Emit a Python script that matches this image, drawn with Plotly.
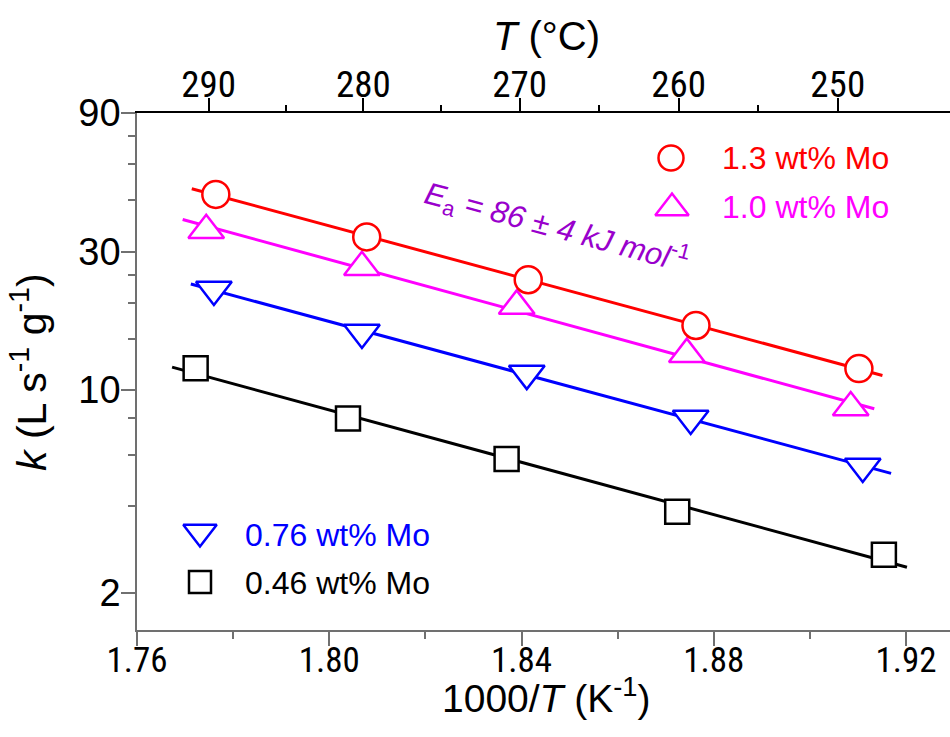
import numpy as np
import plotly.graph_objects as go

# ---------------- data ----------------
series_names = ["1.3 wt% Mo", "1.0 wt% Mo", "0.76 wt% Mo", "0.46 wt% Mo"]
x_red = [1.7764, 1.8078, 1.8414, 1.8763, 1.9102]
k_red = [47.2, 33.7, 24.0, 16.7, 11.86]
x_mag = [1.7744, 1.8068, 1.8390, 1.8744, 1.9085]
k_mag = [35.5, 26.5, 19.5, 13.3, 8.71]
x_blue = [1.7760, 1.8068, 1.8411, 1.8752, 1.9110]
k_blue = [22.2, 15.8, 11.4, 7.99, 5.46]
x_black = [1.7722, 1.8039, 1.8369, 1.8724, 1.9154]
k_black = [11.89, 7.99, 5.79, 3.81, 2.71]
# x-span of each fitted line
fit_red = [1.7714, 1.9151]
fit_mag = [1.7695, 1.9134]
fit_blue = [1.7712, 1.9169]
fit_black = [1.7673, 1.9202]

x_ticks = [1.76, 1.80, 1.84, 1.88, 1.92]
x_minor = [1.78, 1.82, 1.86, 1.90]
y_ticks = [2, 10, 30, 90]
y_minor = [4, 6, 8, 15, 20, 25, 45, 60, 75]
top_T = [290, 280, 270, 260, 250]
# where the reference places the top (°C) ticks, in 1000/T units
top_T_pos = [1.7749, 1.8071, 1.8396, 1.8727, 1.9058]
top_T_minor_pos = [1.7910, 1.8233, 1.8561, 1.8892]
ea_text = "<i>E</i><sub>a</sub><i> = 86 ± 4 kJ mol</i><sup>-1</sup>"

# ---------------- styles ----------------
colors = ["#FF0000", "#FF00FF", "#0000FF", "#000000"]
symbols = ["circle", "triangle-up", "triangle-down", "square"]
msizes = [27, 31, 31, 24]
FONT = "Liberation Sans, Arial, sans-serif"
NARROW = "Liberation Sans Narrow, Arial Narrow, Roboto Condensed, Liberation Sans, sans-serif"

W, H = 950, 737
L, R, T, B = 137, 0, 113, 107
PW, PH = W - L - R, H - T - B
xr = [1.76, 1.76 + PW / 4806.25]
yr = [0.1741, np.log10(90)]


def px(xp):
    return (xp - L) / PW


def py(yp):
    return (H - B - yp) / PH


fig = go.Figure()
xs = [x_red, x_mag, x_blue, x_black]
ks = [k_red, k_mag, k_blue, k_black]
fits = [fit_red, fit_mag, fit_blue, fit_black]

# fitted lines (Arrhenius fit in log space)
for x, k, f, c in zip(xs, ks, fits, colors):
    p = np.polyfit(np.array(x), np.log10(np.array(k)), 1)
    fx = np.array(f)
    fig.add_trace(go.Scatter(x=fx, y=10 ** np.polyval(p, fx), mode="lines",
                             line=dict(color=c, width=3), showlegend=False,
                             hoverinfo="skip"))

# markers, drawn from bottom series up so red sits on top
for i in [3, 2, 1, 0]:
    fig.add_trace(go.Scatter(x=xs[i], y=ks[i], mode="markers", name=series_names[i],
                             marker=dict(symbol=symbols[i], size=msizes[i], color="white",
                                         line=dict(color=colors[i], width=2.5)),
                             showlegend=False, cliponaxis=False))

# top axis carrier trace (invisible)
fig.add_trace(go.Scatter(x=xr, y=[None, None], xaxis="x2", yaxis="y",
                         showlegend=False, hoverinfo="skip"))

# legend drawn on a pixel-unit overlay axis
leg_pos = [(671, 158), (672, 208), (200, 532), (200, 582)]
leg_text_x = [720, 720, 243, 243]
leg_text_y = [158, 207, 535, 583]
for i in range(4):
    fig.add_trace(go.Scatter(x=[leg_pos[i][0]], y=[leg_pos[i][1]], mode="markers",
                             xaxis="x3", yaxis="y3", showlegend=False, hoverinfo="skip",
                             marker=dict(symbol=symbols[i], size=msizes[i] - 2, color="white",
                                         line=dict(color=colors[i], width=2.5))))
    fig.add_annotation(x=px(leg_text_x[i]), y=py(leg_text_y[i]), xref="paper", yref="paper",
                       text=series_names[i], showarrow=False, xanchor="left",
                       yanchor="middle", font=dict(family=FONT, size=32, color=colors[i]))

fig.add_annotation(x=px(557), y=py(227), xref="paper", yref="paper", text=ea_text,
                   showarrow=False, textangle=15, xanchor="center", yanchor="middle",
                   font=dict(family=FONT, size=31, color="#9900CC"))

# axis titles
fig.add_annotation(x=px(546), y=py(695), xref="paper", yref="paper", showarrow=False,
                   xanchor="center", yanchor="middle",
                   text="1000/<i>T</i> (K<sup>-1</sup>)",
                   font=dict(family=FONT, size=39, color="black"))
fig.add_annotation(x=px(546), y=py(36), xref="paper", yref="paper", showarrow=False,
                   xanchor="center", yanchor="middle",
                   text="<i>T</i> (°C)", font=dict(family=FONT, size=40, color="black"))
fig.add_annotation(x=px(29), y=py(372), xref="paper", yref="paper", showarrow=False,
                   xanchor="center", yanchor="middle",
                   textangle=-90, text="<i>k</i> (L s<sup>-1</sup> g<sup>-1</sup>)",
                   font=dict(family=FONT, size=41, color="black"))

AX_GRAY = "#707070"
fig.update_layout(
    width=W, height=H, margin=dict(l=L, r=R, t=T, b=B),
    paper_bgcolor="white", plot_bgcolor="white", showlegend=False,
    xaxis=dict(range=xr, tickvals=x_ticks, ticktext=[f"{v:.2f}" for v in x_ticks],
               ticks="outside", ticklen=14, tickwidth=1.5, tickcolor=AX_GRAY,
               showline=True, linecolor=AX_GRAY, linewidth=1.5, showgrid=False,
               zeroline=False, tickfont=dict(family=NARROW, size=35, color="black"),
               ticklabelstandoff=-16,
               minor=dict(tickvals=x_minor, ticks="outside", ticklen=7, tickwidth=1.5,
                          tickcolor=AX_GRAY, showgrid=False)),
    xaxis2=dict(range=xr, overlaying="x", side="top", anchor="y",
                tickvals=top_T_pos, ticktext=[str(t) for t in top_T],
                ticks="outside", ticklen=13, tickwidth=1.5, tickcolor="black",
                showline=True, linecolor="black", linewidth=2, showgrid=False, zeroline=False,
                tickfont=dict(family=NARROW, size=37, color="black"),
                ticklabelstandoff=-14,
                minor=dict(tickvals=top_T_minor_pos, ticks="outside",
                           ticklen=6, tickwidth=1.5, tickcolor="black", showgrid=False)),
    yaxis=dict(type="log", range=yr, tickvals=y_ticks, ticktext=[str(v) for v in y_ticks],
               ticks="outside", ticklen=14, tickwidth=1.5, tickcolor=AX_GRAY,
               showline=True, linecolor=AX_GRAY, linewidth=1.5, showgrid=False,
               zeroline=False, tickfont=dict(family=FONT, size=38, color="black"),
               ticklabelstandoff=-7,
               minor=dict(tickvals=y_minor, ticks="outside", ticklen=7, tickwidth=1.5,
                          tickcolor=AX_GRAY, showgrid=False)),
    xaxis3=dict(domain=[0, 1], range=[L, W - R], overlaying="x", anchor="y3",
                visible=False, fixedrange=True),
    yaxis3=dict(domain=[0, 1], range=[H - B, T], overlaying="y", anchor="x3",
                visible=False, fixedrange=True),
)

fig.write_html("out.html")
